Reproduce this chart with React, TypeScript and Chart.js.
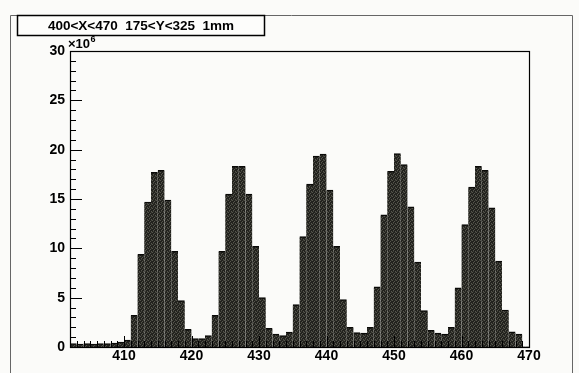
import React, { useEffect, useRef } from "react";
import { Chart, registerables } from "chart.js";

Chart.register(...registerables);

// ---- data ----
const titleText = "400<X<470  175<Y<325  1mm";
const yExponentText = "×10";
const yExponentPower = "6";
const firstBinEdge = 402;
const binWidth = 1;
const xAxisMin = 402;
const xAxisMax = 470;
const yAxisMin = 0;
const yAxisMax = 30;
const xTickLabels = [410, 420, 430, 440, 450, 460, 470];
const yTickLabels = [0, 5, 10, 15, 20, 25, 30];
// counts per 1mm bin (in units of 10^6), bins 402..469
const counts = [
  0.35, 0.3, 0.35, 0.3, 0.35, 0.35, 0.4, 0.5, 0.7,
  3.2, 9.4, 14.7, 17.7, 17.9, 14.9, 9.7, 4.7, 1.8, 0.85, 0.85, 1.15,
  3.2, 9.7, 15.5, 18.3, 18.3, 15.5, 10.2, 5.0, 1.9, 1.3, 1.15, 1.5,
  4.3, 11.2, 16.5, 19.35, 19.55, 15.9, 10.2, 4.8, 2.0, 1.45, 1.4, 2.0,
  6.1, 13.4, 17.8, 19.6, 18.5, 14.2, 8.6, 3.7, 1.7, 1.4, 1.3, 2.0,
  6.0, 12.4, 16.2, 18.3, 17.9, 14.1, 8.7, 3.75, 1.55, 1.3, 0,
];

const FONT = "'Liberation Sans', Arial, Helvetica, sans-serif";

function makePattern(): CanvasPattern | string {
  const c = document.createElement("canvas");
  c.width = 4;
  c.height = 4;
  const g = c.getContext("2d");
  if (!g) return "#2a2a25";
  g.fillStyle = "#22221e";
  g.fillRect(0, 0, 4, 4);
  g.fillStyle = "#55554c";
  g.fillRect(0, 0, 1, 1);
  g.fillRect(2, 1, 1, 1);
  g.fillRect(1, 2, 1, 1);
  g.fillRect(3, 3, 1, 1);
  g.fillStyle = "#3a3a33";
  g.fillRect(3, 0, 1, 1);
  g.fillRect(1, 3, 1, 1);
  const p = g.createPattern(c, "repeat");
  return p || "#2a2a25";
}

const rootStyle = {
  id: "rootStyle",
  beforeDraw(chart: any) {
    const { ctx, width, height } = chart;
    ctx.save();
    ctx.fillStyle = "#fbfbf9";
    ctx.fillRect(0, 0, width, height);
    // pad border
    ctx.strokeStyle = "#666";
    ctx.lineWidth = 1;
    ctx.beginPath();
    ctx.moveTo(10.5, height + 5);
    ctx.lineTo(10.5, 15.5);
    ctx.lineTo(572.5, 15.5);
    ctx.lineTo(572.5, height + 5);
    ctx.stroke();
    ctx.restore();
  },
  afterDatasetsDraw(chart: any) {
    const { ctx, chartArea, scales } = chart;
    const { left, right, top, bottom } = chartArea;
    const x = scales.x;
    const y = scales.y;
    ctx.save();
    ctx.strokeStyle = "#000";
    ctx.lineWidth = 1;
    ctx.beginPath();
    for (let v = yAxisMin; v <= yAxisMax; v++) {
      const py = Math.round(y.getPixelForValue(v)) + 0.5;
      const len = v % 5 === 0 ? 12 : 6;
      ctx.moveTo(left, py);
      ctx.lineTo(left + len, py);
    }
    for (let v = xAxisMin + 1; v < xAxisMax; v++) {
      const px = Math.round(x.getPixelForValue(v)) + 0.5;
      const len = v % 10 === 0 ? 11 : 6;
      ctx.moveTo(px, bottom);
      ctx.lineTo(px, bottom - len);
    }
    ctx.stroke();
    ctx.lineWidth = 1.2;
    ctx.strokeRect(Math.round(left) + 0.5, Math.round(top) + 0.5, Math.round(right - left), Math.round(bottom - top));

    // exponent label
    ctx.fillStyle = "#000";
    ctx.textBaseline = "alphabetic";
    ctx.textAlign = "left";
    ctx.font = `bold 13px ${FONT}`;
    ctx.fillText(yExponentText, left - 2, top - 3);
    const w = ctx.measureText(yExponentText).width;
    ctx.font = `bold 9px ${FONT}`;
    ctx.fillText(yExponentPower, left - 2 + w + 0.5, top - 9);

    // title box
    ctx.fillStyle = "#fdfdfb";
    ctx.fillRect(17, 15, 248, 20);
    ctx.lineWidth = 1.5;
    ctx.strokeStyle = "#000";
    ctx.strokeRect(17.5, 15.5, 247, 20);
    ctx.fillStyle = "#000";
    ctx.font = `bold 13.5px ${FONT}`;
    ctx.textAlign = "center";
    ctx.textBaseline = "middle";
    ctx.fillText(titleText, 141, 26);
    ctx.restore();
  },
};

export default function App() {
  const ref = useRef<HTMLCanvasElement | null>(null);

  useEffect(() => {
    document.body.style.margin = "0";
    const canvas = ref.current;
    if (!canvas) return;
    const data = counts.map((c, i) => ({ x: firstBinEdge + (i + 0.5) * binWidth, y: c }));
    const chart = new Chart(canvas, {
      type: "bar",
      data: {
        datasets: [
          {
            data: data as any,
            backgroundColor: makePattern() as any,
            borderColor: "#0a0a08",
            borderWidth: { top: 1.5, left: 0, right: 0, bottom: 0 } as any,
            borderSkipped: false as any,
            barPercentage: 1,
            categoryPercentage: 1,
          },
        ],
      },
      options: {
        responsive: false,
        animation: false,
        events: [],
        layout: { padding: { left: 0, top: 51, right: 50, bottom: 0 } },
        plugins: {
          legend: { display: false },
          tooltip: { enabled: false },
          title: { display: false },
        },
        scales: {
          x: {
            type: "linear",
            min: xAxisMin,
            max: xAxisMax,
            offset: false,
            grid: { display: false, drawTicks: false },
            border: { display: false },
            afterBuildTicks: (s: any) => {
              s.ticks = xTickLabels.map((v) => ({ value: v }));
            },
            afterFit: (s: any) => {
              s.height = 26;
            },
            ticks: {
              autoSkip: false,
              maxRotation: 0,
              padding: 1,
              color: "#000",
              font: { family: FONT, size: 14, weight: "bold" },
              callback: (v: any) => String(v),
            },
          },
          y: {
            type: "linear",
            min: yAxisMin,
            max: yAxisMax,
            grid: { display: false, drawTicks: false },
            border: { display: false },
            afterBuildTicks: (s: any) => {
              s.ticks = yTickLabels.map((v) => ({ value: v }));
            },
            afterFit: (s: any) => {
              s.width = 70;
            },
            ticks: {
              padding: 5,
              color: "#000",
              font: { family: FONT, size: 14, weight: "bold" },
              callback: (v: any) => String(v),
            },
          },
        },
      },
      plugins: [rootStyle],
    });
    return () => chart.destroy();
  }, []);

  return (
    <div style={{ width: 579, height: 373 }}>
      <canvas ref={ref} width={579} height={373} style={{ display: "block", width: 579, height: 373 }} />
    </div>
  );
}
